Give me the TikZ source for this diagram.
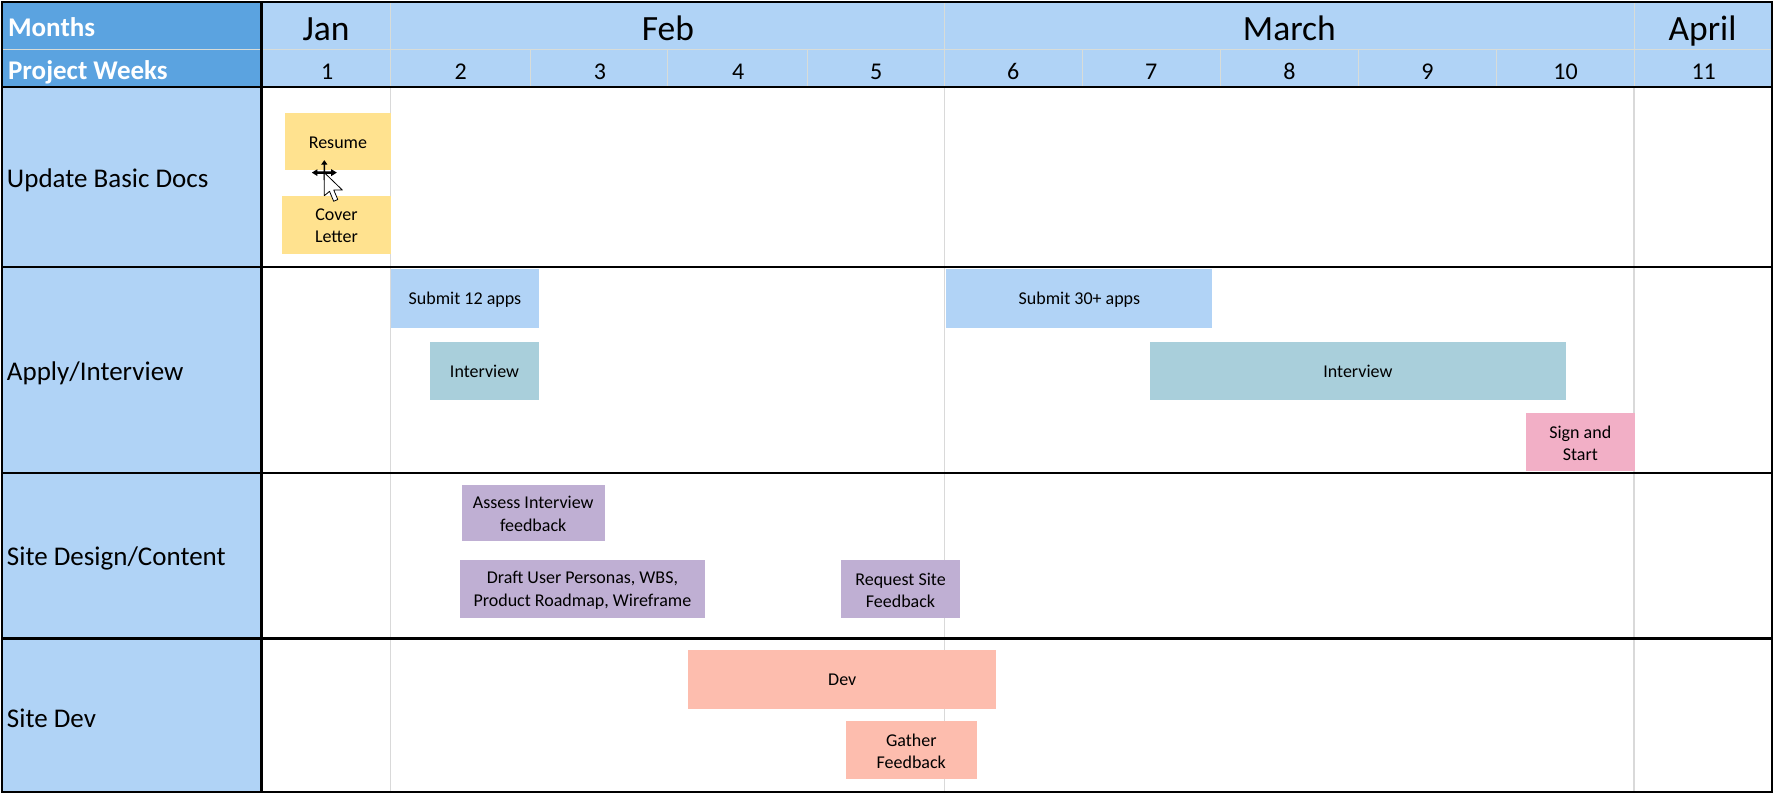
\documentclass[tikz,border=0pt]{standalone}
\usepackage{fontspec}
\setmainfont{Carlito}
\definecolor{hdark}{HTML}{5BA3E0}
\definecolor{hlight}{HTML}{B0D3F6}
\definecolor{gridl}{HTML}{D9D9D9}
\definecolor{hgrid}{HTML}{D8DCD8}
\definecolor{cyellow}{HTML}{FFE28F}
\definecolor{cblue}{HTML}{B1D3F6}
\definecolor{cteal}{HTML}{A9CFDB}
\definecolor{cpink}{HTML}{F2AFC6}
\definecolor{cpurple}{HTML}{BFAFD3}
\definecolor{csalmon}{HTML}{FDBDAE}
\newcommand{\ganttbar}[7]{%
  \fill[#6] (#2,#3) rectangle (#4,#5);
  \node[barbox] (#1) at ({(#2+#4)/2},{(#3+#5)/2+0.9}) {#7};}
\tikzset{
  barbox/.style={inner sep=0pt,align=center,font=\fontsize{18}{22.2}\selectfont,text=black},
  monthlabel/.style={font=\fontsize{35.5}{38}\selectfont,text=black,inner sep=0pt,anchor=base},
  weeklabel/.style={font=\fontsize{24}{26}\selectfont,text=black,inner sep=0pt,anchor=base},
  headlabel/.style={font=\bfseries\fontsize{27}{30}\selectfont,text=white,inner sep=0pt,anchor=base west},
  rowlabel/.style={font=\fontsize{27}{30}\selectfont,text=black,inner sep=0pt,anchor=west},
  heavy/.style={draw=black,line width=2.1pt},
  soft/.style={draw=hgrid,line width=1pt},
  thin grid/.style={draw=gridl,line width=1.2pt}
}
\begin{document}
\begin{tikzpicture}[x=1.13202pt,y=-1.13202pt]
\useasboundingbox (0,0) rectangle (1568,703.2);
\fill[white] (0,0) rectangle (1568,703.2);
% header and side fills
\fill[hdark] (2,2) rectangle (231,77);
\fill[hlight] (231,2) rectangle (1565,77);
\fill[hlight] (2,77) rectangle (231,700);
% vertical month grid
\foreach \x in {345,834,1443.5} {\draw[thin grid] (\x,77) -- (\x,700);}
% header grid
\draw[soft] (2,44) -- (1565,44);
\foreach \x in {345,834,1443.5} {\draw[soft] (\x,2) -- (\x,77);}
\foreach \x in {469,590,713,956,1078,1200,1322} {\draw[soft] (\x,44) -- (\x,77);}
% header labels
\node[headlabel] (hm) at (7,32) {Months};
\node[headlabel] (hw) at (7,70) {Project Weeks};
\node[monthlabel] (mjan) at (288,35.5) {Jan};
\node[monthlabel] (mfeb) at (590,35.5) {Feb};
\node[monthlabel] (mmar) at (1139,35.5) {March};
\node[monthlabel] (mapr) at (1504,35.5) {April};
\foreach \n/\x in {1/289,2/407,3/530,4/652,5/774,6/895,7/1017,8/1139,9/1261,10/1383,11/1505}
  {\node[weeklabel] (w\n) at (\x,70) {\n};}
% row labels
\node[rowlabel] (r1) at (6,159.5) {Update Basic Docs};
\node[rowlabel] (r2) at (6,329.5) {Apply/Interview};
\node[rowlabel] (r3) at (6,493.5) {Site Design/Content};
\node[rowlabel] (r4) at (6,634.5) {Site Dev};
% bars
\ganttbar{resume}{252}{100}{345}{150}{cyellow}{Resume}
\ganttbar{cover}{249}{173}{345.5}{224}{cyellow}{Cover\\Letter}
\ganttbar{sub12}{345.5}{238}{476}{290}{cblue}{Submit 12 apps}
\ganttbar{int1}{380}{302}{476}{353}{cteal}{Interview}
\ganttbar{sub30}{836}{238}{1071}{290}{cblue}{Submit 30+ apps}
\ganttbar{int2}{1016}{302}{1383}{353}{cteal}{Interview}
\ganttbar{sign}{1348}{365}{1444}{416}{cpink}{Sign and\\Start}
\ganttbar{assess}{408}{428}{534}{478}{cpurple}{Assess Interview\\feedback}
\ganttbar{draft}{406}{495}{623}{546}{cpurple}{Draft User Personas, WBS,\\Product Roadmap, Wireframe}
\ganttbar{request}{743}{495}{848}{546}{cpurple}{Request Site\\Feedback}
\ganttbar{dev}{608}{574}{880}{626}{csalmon}{Dev}
\ganttbar{gather}{747}{637}{863}{688}{csalmon}{Gather\\Feedback}
% heavy frame
\draw[heavy] (2,2) rectangle (1565,700);
\draw[heavy] (231,2) -- (231,700);
\foreach \y in {77,236,418,564} {\draw[heavy] (2,\y) -- (1565,\y);}
% cursor
\begin{scope}[shift={(286.5,152.5)},scale=1.1]
  \fill[black] (0,-10) -- (2.5,-6.5) -- (0.6,-6.5) -- (0.6,-1) -- (5.5,-1) -- (5.5,-2.8) -- (10,0) -- (5.5,2.8) -- (5.5,1) -- (0.6,1) -- (0.6,6) -- (-0.6,6) -- (-0.6,1) -- (-5.5,1) -- (-5.5,2.8) -- (-10,0) -- (-5.5,-2.8) -- (-5.5,-1) -- (-0.6,-1) -- (-0.6,-6.5) -- (-2.5,-6.5) -- cycle;
  \draw[black,fill=white,line width=0.8pt,line join=round] (0,0) -- (0,18.5) -- (4.2,15) -- (7.5,23) -- (10.8,21.6) -- (7.6,14) -- (14.5,14) -- cycle;
\end{scope}
\end{tikzpicture}
\end{document}
